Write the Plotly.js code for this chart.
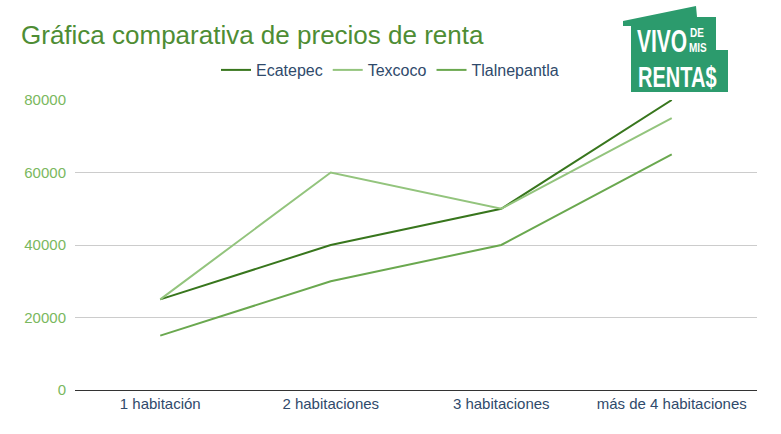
<!DOCTYPE html>
<html><head><meta charset="utf-8">
<script src="https://cdn.plot.ly/plotly-3.0.1.min.js"></script>
<style>html,body{margin:0;padding:0;background:#fff}#c{width:781px;height:434px}</style>
</head><body><div id="c"></div>
<script>
const categories = ["1 habitación", "2 habitaciones", "3 habitaciones", "más de 4 habitaciones"];
const ecatepec = [25000, 40000, 50000, 80000];
const texcoco = [25000, 60000, 50000, 75000];
const tlalnepantla = [15000, 30000, 40000, 65000];
const yTicks = [0, 20000, 40000, 60000, 80000];

const W = 781, H = 434, L = 75, R = 24, T = 100, B = 44;
const pw = W - L - R, ph = H - T - B;
const px = x => (x - L) / pw;
const py = y => (H - B - y) / ph;

const traces = [
  {name: "Ecatepec", y: ecatepec, color: "#38761d"},
  {name: "Texcoco", y: texcoco, color: "#93c47d"},
  {name: "Tlalnepantla", y: tlalnepantla, color: "#6aa84f"}
].map(s => ({x: categories, y: s.y, name: s.name, type: "scatter", mode: "lines", cliponaxis: false,
  line: {color: s.color, width: 2}}));

const logoColor = "#2c9b6d";
const house = [[623,21],[696,6],[697,17],[716,17],[716,50],[728,50],[728,92],[631,92],[631,26],[623,26]];
const path = "M " + house.map(p => px(p[0]) + "," + py(p[1])).join(" L ") + " Z";
const logoFont = s => ({family: "Liberation Sans, Arial, sans-serif", size: s, color: "#fff", weight: "bold"});
const logoText = (t, x, y, s) => ({text: t, xref: "paper", yref: "paper", x: px(x), y: py(y),
  xanchor: "center", yanchor: "middle", showarrow: false, font: logoFont(s)});
const logoScale = [1.5, 1.2, 1.2, 1.5];

const layout = {
  width: W, height: H,
  margin: {l: L, r: R, t: T, b: B},
  paper_bgcolor: "#fff", plot_bgcolor: "#fff",
  font: {family: "Liberation Sans, Arial, sans-serif"},
  title: {text: "Gráfica comparativa de precios de renta", x: 21 / W, xanchor: "left", y: 1 - 35 / H, yanchor: "middle",
    font: {size: 26, color: "#4e8d34"}},
  showlegend: true,
  legend: {orientation: "h", x: px(390), xanchor: "center", y: py(70), yanchor: "middle",
    font: {size: 16, color: "#2f4a6b"}},
  xaxis: {type: "category", range: [-0.5, 3.5], showgrid: false, showline: true, linecolor: "#333", linewidth: 1,
    ticks: "", tickfont: {size: 15, color: "#2f4a6b"}, fixedrange: true},
  yaxis: {range: [0, 80000], tickvals: yTicks, ticktext: yTicks.map(String), showgrid: true, gridcolor: "#cccccc",
    zeroline: false, ticks: "", tickfont: {size: 15, color: "#7ab85e"}, ticklabelstandoff: 8, fixedrange: true},
  shapes: [{type: "path", xref: "paper", yref: "paper", path: path, fillcolor: logoColor, line: {width: 0}, layer: "below"}],
  annotations: [
    logoText("VIVO", 662, 40, 21),
    logoText("DE", 697, 32.5, 10),
    logoText("MIS", 698, 47.5, 10),
    logoText("RENTA$", 677, 76, 20)
  ]
};

Plotly.newPlot("c", traces, layout, {displayModeBar: false, staticPlot: true}).then(gd => {
  gd.querySelectorAll(".annotation-text").forEach((t, i) => {
    t.style.transformBox = "fill-box";
    t.style.transformOrigin = "center";
    t.style.transform = "scaleY(" + logoScale[i] + ")";
  });
});
</script></body></html>
